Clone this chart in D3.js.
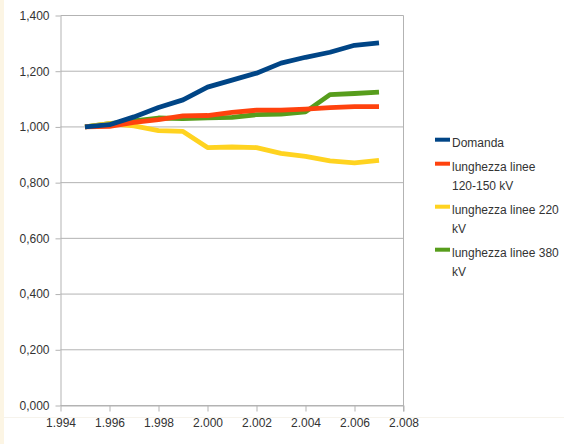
<!DOCTYPE html>
<html><head><meta charset="utf-8">
<script src="https://cdn.jsdelivr.net/npm/d3@7"></script>
<style>
html,body{margin:0;padding:0;background:#fff;}
svg{display:block;font-family:"Liberation Sans",Arial,sans-serif;}
</style></head>
<body>
<svg id="c" width="564" height="444"></svg>
<script>
const years = [1995,1996,1997,1998,1999,2000,2001,2002,2003,2004,2005,2006,2007];
const domanda = [1.000,1.008,1.036,1.070,1.097,1.143,1.168,1.193,1.229,1.250,1.268,1.293,1.302];
const linee120 = [1.000,1.002,1.016,1.026,1.040,1.041,1.052,1.060,1.060,1.064,1.069,1.073,1.073];
const linee220 = [1.000,1.012,1.004,0.987,0.984,0.926,0.928,0.926,0.905,0.894,0.878,0.871,0.880];
const linee380 = [1.000,1.012,1.022,1.032,1.030,1.033,1.034,1.044,1.046,1.054,1.116,1.120,1.125];
const seriesNames = ["Domanda","lunghezza linee\n120-150 kV","lunghezza linee 220\nkV","lunghezza linee 380\nkV"];
const seriesColors = ["#004586","#ff420e","#ffd320","#579d1c"];
const xTicks = [1994,1996,1998,2000,2002,2004,2006,2008];
const yTicks = [0,0.2,0.4,0.6,0.8,1.0,1.2,1.4];

const allSeries = [domanda, linee120, linee220, linee380];
const svg = d3.select("#c");
const loc = d3.formatLocale({decimal:",", thousands:".", grouping:[3], currency:["",""]});
const fx = loc.format(",");
const fy = loc.format(".3f");

// left beige strip and faint bottom separator
svg.append("rect").attr("x",0).attr("y",0).attr("width",4).attr("height",444).attr("fill","#fcf5e4");
svg.append("line").attr("x1",4).attr("x2",564).attr("y1",417.5).attr("y2",417.5).attr("stroke","#f6f3ec");

const x = d3.scaleLinear().domain([1994,2008]).range([60.5,403.5]);
const y = d3.scaleLinear().domain([0,1.4]).range([405.5,15.5]);
const gridC = "#b3b3b3";

// grid
svg.append("g").selectAll("line").data(yTicks).join("line")
  .attr("x1",x(1994)).attr("x2",x(2008)).attr("y1",d=>y(d)).attr("y2",d=>y(d))
  .attr("stroke",gridC).attr("stroke-width",1);
// right frame
svg.append("line").attr("x1",x(2008)).attr("x2",x(2008)).attr("y1",y(1.4)).attr("y2",y(0)+6).attr("stroke",gridC);

// y axis
const ya = svg.append("g").attr("transform",`translate(${x(1994)},0)`)
  .call(d3.axisLeft(y).tickValues(yTicks).tickFormat(fy).tickSize(5).tickSizeOuter(0).tickPadding(6));
// x axis
const xa = svg.append("g").attr("transform",`translate(0,${y(0)})`)
  .call(d3.axisBottom(x).tickValues(xTicks).tickFormat(fx).tickSize(6).tickSizeOuter(0).tickPadding(7));
[ya,xa].forEach(a=>{
  a.select(".domain").attr("stroke",gridC);
  a.selectAll(".tick line").attr("stroke",gridC);
  a.selectAll(".tick text").attr("fill","#333").attr("font-size","12px").attr("font-family","'Liberation Sans',Arial,sans-serif");
});

// lines (drawn last series first so Domanda is on top)
const line = d3.line().x((d,i)=>x(years[i])).y(d=>y(d));
const order = allSeries.map((s,i)=>i).reverse();
svg.append("g").selectAll("path").data(order).join("path")
  .attr("d",i=>line(allSeries[i])).attr("fill","none")
  .attr("stroke",i=>seriesColors[i]).attr("stroke-width",4.8)
  .attr("stroke-linejoin","round").attr("stroke-linecap","butt");

// legend
const lg = svg.append("g");
let cy = 142.7;
const lh = 19, gap = 5;
seriesNames.forEach((name,i)=>{
  const lines = name.split("\n");
  lg.append("rect").attr("x",435).attr("y",cy-5).attr("width",15).attr("height",4).attr("fill",seriesColors[i]);
  const t = lg.append("text").attr("x",452).attr("y",cy+4.5).attr("font-size","12px").attr("fill","#333");
  lines.forEach((l,j)=>{
    t.append("tspan").attr("x",452).attr("dy",j===0?0:lh).text(l);
  });
  cy += lines.length*lh + gap;
});
</script>
</body></html>
